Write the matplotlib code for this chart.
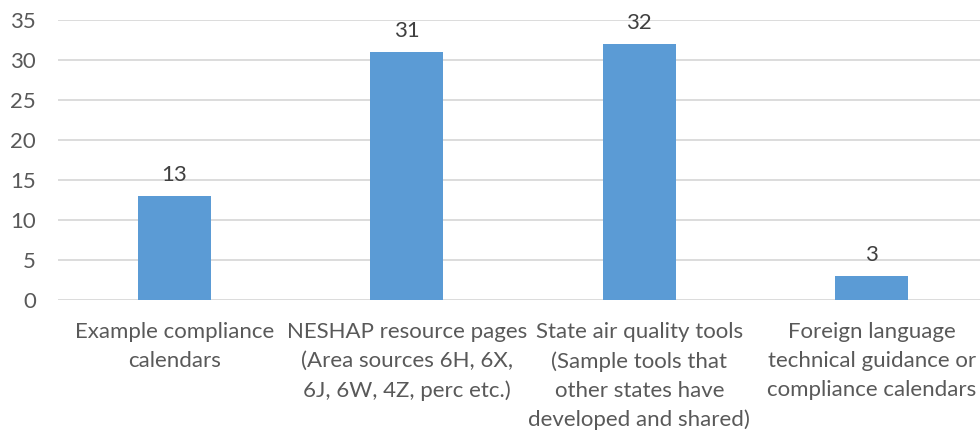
import matplotlib
matplotlib.use("Agg")
import matplotlib.pyplot as plt

categories = [
    "Example compliance\ncalendars",
    "NESHAP resource pages\n(Area sources 6H, 6X,\n6J, 6W, 4Z, perc etc.)",
    "State air quality tools\n(Sample tools that\nother states have\ndeveloped and shared)",
    "Foreign language\ntechnical guidance or\ncompliance calendars",
]
values = [13, 31, 32, 3]
yticks = [0, 5, 10, 15, 20, 25, 30, 35]

plt.rcParams['font.family'] = ['Lato', 'DejaVu Sans']
W, H = 980, 434
fig = plt.figure(figsize=(W / 100, H / 100), dpi=100)
ax = fig.add_axes([58 / W, (H - 300) / H, (988 - 58) / W, 280 / H])

x = list(range(len(categories)))
bars = ax.bar(x, values, width=0.314, color="#5B9BD5", zorder=3)
for xi, v in zip(x, values):
    ax.annotate(str(v), (xi, v), xytext=(0, 8), textcoords="offset points",
                ha="center", va="bottom", fontsize=16, color="#404040")

ax.set_xlim(-0.5, len(categories) - 0.5)
ax.set_ylim(0, 35)
ax.set_yticks(yticks)
ax.set_yticklabels([str(t) for t in yticks])
ax.set_xticks(x)
ax.set_xticklabels(categories, linespacing=1.55)
ax.tick_params(axis="x", length=0, pad=16, labelsize=16, labelcolor="#595959")
ax.tick_params(axis="y", length=0, pad=16, labelsize=16, labelcolor="#595959")
ax.grid(axis="y", color="#D9D9D9", linewidth=1.3, zorder=0)
for s in ["top", "right", "left", "bottom"]:
    ax.spines[s].set_visible(False)

fig.savefig("out.png", dpi=100)
